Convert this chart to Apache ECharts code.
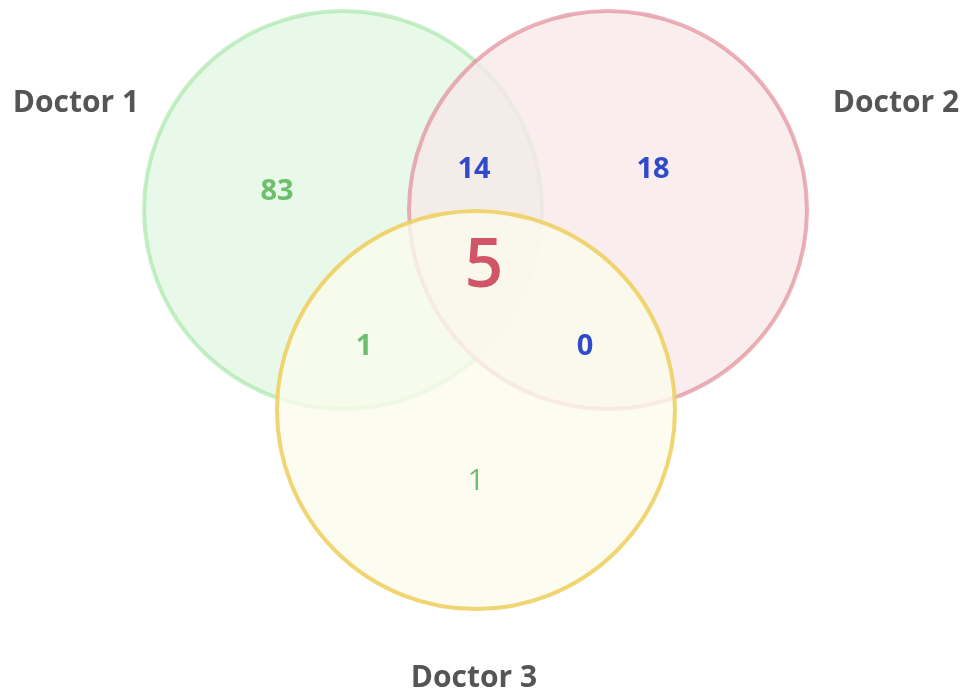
<!DOCTYPE html>
<html>
<head>
<meta charset="utf-8">
<script src="https://cdn.jsdelivr.net/npm/echarts@6/dist/echarts.min.js"></script>
<style>
  html, body { margin: 0; padding: 0; background: #fff; }
  #chart { width: 966px; height: 692px; }
</style>
</head>
<body>
<div id="chart"></div>
<script>
// set names and region counts
var setNames = ["Doctor 1", "Doctor 2", "Doctor 3"];
// regions: only1, only2, only3, 1&2, 1&3, 2&3, all
var regionNames = ["1", "2", "3", "12", "13", "23", "123"];
var regionCounts = [83, 18, 1, 14, 1, 0, 5];

// layout (pixel-like units on hidden axes)
var circleCenters = [[343, 210], [608, 210], [476, 410]];
var circleRadius = 199;
var setLabelPos = [[76, 103], [896, 103], [474, 678]];
var regionLabelPos = [[277, 192], [653, 170], [476, 482], [474, 170], [364, 347], [585, 347], [484, 268]];

var fills = ["rgba(144,224,144,0.2)", "rgba(247,232,234,0.8)", "rgba(251,251,236,0.8)"];
var strokes = ["rgba(144,224,144,0.5)", "rgba(220,120,135,0.58)", "rgba(238,208,100,0.9)"];
var regionColors = ["#6cbf6c", "#2f4bcc", "#6cbf6c", "#2f4bcc", "#6cbf6c", "#2f4bcc", "#d05566"];

var myChart = echarts.init(document.getElementById("chart"));

var circleData = circleCenters.map(function(c, i) {
  return [c[0], c[1], circleRadius, i];
});
var regionData = regionCounts.map(function(v, i) {
  return [regionLabelPos[i][0], regionLabelPos[i][1], v, i];
});
var setData = setNames.map(function(n, i) {
  return [setLabelPos[i][0], setLabelPos[i][1], i];
});

var option = {
  animation: false,
  grid: { left: 0, right: 0, top: 0, bottom: 0 },
  xAxis: { type: "value", min: 0, max: 966, show: false },
  yAxis: { type: "value", min: 0, max: 692, inverse: true, show: false },
  series: [
    {
      type: "custom",
      data: circleData,
      renderItem: function(params, api) {
        var p = api.coord([api.value(0), api.value(1)]);
        var r = api.size([api.value(2), 0])[0];
        var i = api.value(3);
        return {
          type: "circle",
          shape: { cx: p[0], cy: p[1], r: r },
          style: { fill: fills[i], stroke: strokes[i], lineWidth: 4 }
        };
      }
    },
    {
      type: "custom",
      data: regionData,
      renderItem: function(params, api) {
        var p = api.coord([api.value(0), api.value(1)]);
        var i = api.value(3);
        var big = i === 6;
        var light = i === 2 || big; // lone "1" and centre "5" are not bold
        return {
          type: "text",
          x: p[0],
          y: p[1],
          style: {
            text: String(api.value(2)),
            fill: regionColors[i],
            fontFamily: "Open Sans",
            fontSize: big ? 68 : 29,
            fontWeight: light ? (big ? 600 : "normal") : "bold",
            align: "center",
            verticalAlign: "middle"
          }
        };
      }
    },
    {
      type: "custom",
      data: setData,
      renderItem: function(params, api) {
        var p = api.coord([api.value(0), api.value(1)]);
        return {
          type: "text",
          x: p[0],
          y: p[1],
          style: {
            text: setNames[api.value(2)],
            fill: "#555555",
            fontFamily: "Open Sans",
            fontSize: 30,
            fontWeight: "bold",
            align: "center",
            verticalAlign: "middle"
          }
        };
      }
    }
  ]
};

myChart.setOption(option);
window.addEventListener("resize", function() {
  myChart.resize();
});
</script>
</body>
</html>
